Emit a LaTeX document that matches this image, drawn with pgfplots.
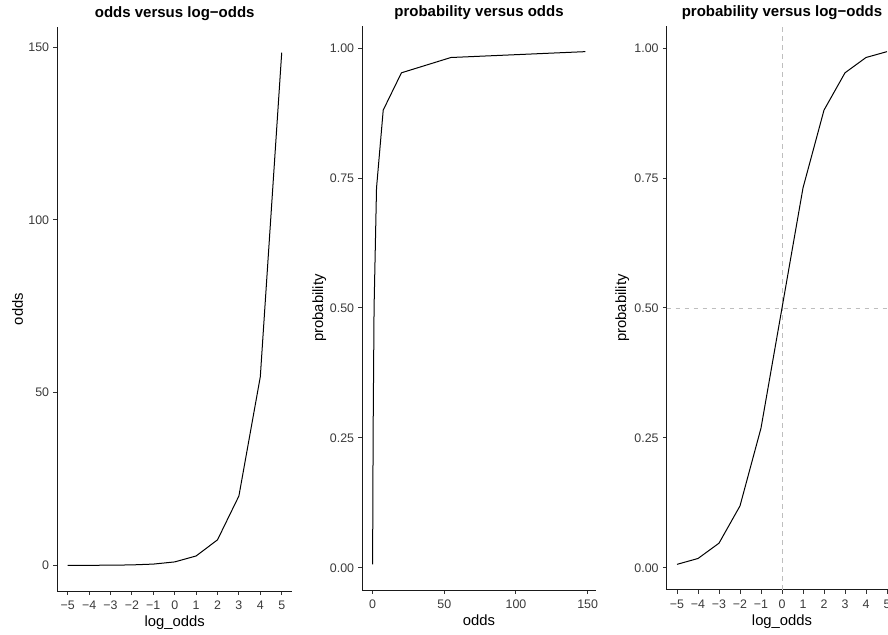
\documentclass[border=0pt]{standalone}
\usepackage{fontspec}
\setmainfont{Liberation Sans}
\usepackage{pgfplots}
\usepackage{pgfplotstable}
\pgfplotsset{compat=1.18}
\definecolor{axcol}{HTML}{1A1A1A}
\definecolor{tickcol}{HTML}{333333}
\definecolor{labcol}{HTML}{3A3A3A}
\definecolor{refcol}{HTML}{BEBEBE}
\pgfplotstableread{
lo odds p
-5 0.006738 0.006693
-4 0.018316 0.017986
-3 0.049787 0.047426
-2 0.135335 0.119203
-1 0.367879 0.268941
0 1.000000 0.500000
1 2.718282 0.731059
2 7.389056 0.880797
3 20.085537 0.952574
4 54.598150 0.982014
5 148.413159 0.993307
}\datatab
\pgfplotsset{
  gg/.style={
    scale only axis,
    anchor=south west,
    height=564pt,
    axis lines=left,
    x axis line style={-, axcol, line width=1pt},
    y axis line style={-, axcol, line width=1pt},
    tick align=outside,
    major tick length=3.7pt,
    every tick/.style={tickcol, line width=1pt},
    minor tick num=0,
    /pgf/number format/assume math mode=true,
    ticklabel style={font=\fontsize{12.4}{14}\selectfont, text=labcol, inner sep=0pt},
    xticklabel style={anchor=north, yshift=-6pt},
    yticklabel style={anchor=east, xshift=-4pt},
    label style={font=\fontsize{14.8}{17}\selectfont, text=black, inner sep=0pt},
    xlabel style={at={(axis description cs:0.5,0)}, anchor=base, yshift=-35.5pt},
    every axis title shift=0pt,
    title style={font=\bfseries\fontsize{15}{18}\selectfont, at={(axis description cs:0.5,1)}, anchor=base, yshift=9pt, inner sep=0pt},
    clip=false,
  },
}
\begin{document}
\begin{tikzpicture}[x=1pt,y=1pt]
\path[use as bounding box] (0,0) rectangle (888,634);
% panel 1
\begin{axis}[gg,
  at={(57pt,43pt)}, width=235.4pt,
  xmin=-5.5, xmax=5.5, ymin=-7.42, ymax=155.83,
  xtick={-5,-4,...,5},
  xticklabels={−5,−4,−3,−2,−1,0,1,2,3,4,5},
  ytick={0,50,100,150},
  yticklabels={0,50,100,150},
  xlabel={log\_odds}, ylabel={odds},
  ylabel style={at={(axis description cs:0,0.5)}, anchor=base, yshift=34pt},
  title={odds versus log−odds},
]
\addplot[black, line width=1pt] table[x=lo, y=odds] {\datatab};
\end{axis}
% panel 2
\begin{axis}[gg,
  at={(362pt,44pt)}, width=234pt,
  xmin=-7.414, xmax=155.83, ymin=-0.04266, ymax=1.04266,
  xtick={0,50,100,150},
  xticklabels={0,50,100,150},
  ytick={0,0.25,0.5,0.75,1},
  yticklabels={0.00,0.25,0.50,0.75,1.00},
  xlabel={odds}, ylabel={probability},
  ylabel style={at={(axis description cs:0,0.5)}, anchor=base, yshift=39pt},
  title={probability versus odds},
]
\addplot[black, line width=1pt] table[x=odds, y=p] {\datatab};
\end{axis}
% panel 3
\begin{axis}[gg,
  at={(666.5pt,44pt)}, width=231pt,
  xmin=-5.5, xmax=5.5, ymin=-0.04266, ymax=1.04266,
  xtick={-5,-4,...,5},
  xticklabels={−5,−4,−3,−2,−1,0,1,2,3,4,5},
  ytick={0,0.25,0.5,0.75,1},
  yticklabels={0.00,0.25,0.50,0.75,1.00},
  xlabel={log\_odds}, ylabel={probability},
  ylabel style={at={(axis description cs:0,0.5)}, anchor=base, yshift=40.5pt},
  title={probability versus log−odds},
]
\addplot[refcol, line width=0.9pt, dash pattern=on 4.5pt off 4.5pt] coordinates {(0,-0.04266) (0,1.04266)};
\addplot[refcol, line width=0.9pt, dash pattern=on 4.5pt off 4.5pt] coordinates {(-5.5,0.5) (5.5,0.5)};
\addplot[black, line width=1pt] table[x=lo, y=p] {\datatab};
\end{axis}
\end{tikzpicture}
\end{document}
